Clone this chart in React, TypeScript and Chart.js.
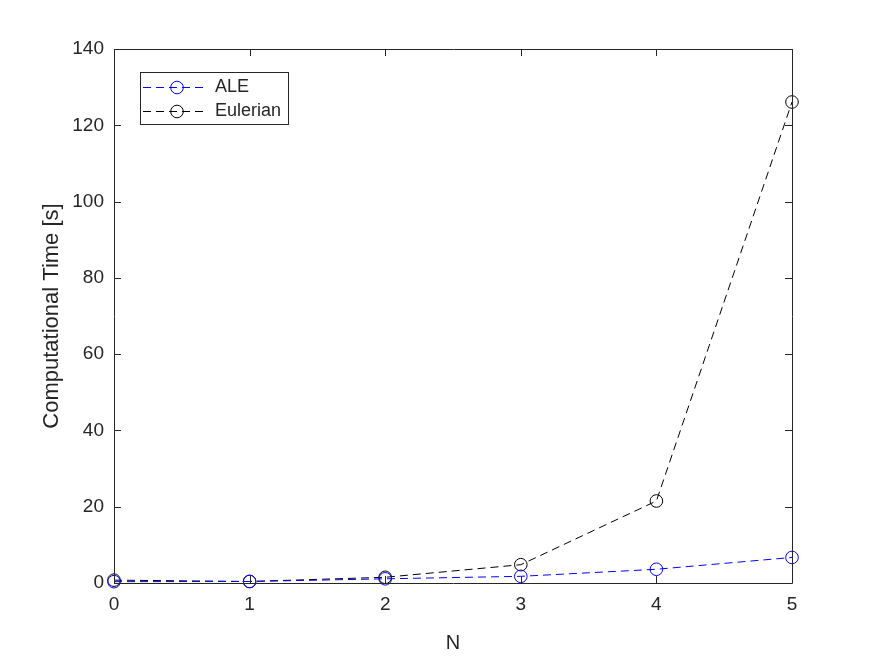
import React, { useEffect, useRef } from "react";
import { Chart, registerables } from "chart.js";

Chart.register(...registerables);

const nValues = [0, 1, 2, 3, 4, 5];
const aleTimes = [0.35, 0.4, 1.1, 1.75, 3.6, 6.7];
const eulerianTimes = [0.75, 0.4, 1.5, 4.8, 21.5, 126.1];
const seriesLabels = ["ALE", "Eulerian"];
const xTitle = "N";
const yTitle = "Computational Time [s]";

const FONT = "'Liberation Sans', Arial, Helvetica, sans-serif";
const AXIS_COLOR = "#262626";
const DASH = [8, 5];

const matlabPlugin = {
  id: "matlabBox",
  afterDraw(chart: any) {
    const { ctx, chartArea } = chart;
    const { left, right, top, bottom } = chartArea;
    const xs = chart.scales.x;
    const ys = chart.scales.y;
    const tl = 7;
    ctx.save();
    ctx.strokeStyle = AXIS_COLOR;
    ctx.lineWidth = 1;
    ctx.setLineDash([]);
    ctx.beginPath();
    ctx.rect(Math.round(left) + 0.5, Math.round(top) + 0.5, Math.round(right - left), Math.round(bottom - top));
    ctx.stroke();
    ctx.beginPath();
    xs.ticks.forEach((t: any) => {
      const x = Math.round(xs.getPixelForValue(t.value)) + 0.5;
      ctx.moveTo(x, bottom);
      ctx.lineTo(x, bottom - tl);
      ctx.moveTo(x, top);
      ctx.lineTo(x, top + tl);
    });
    ys.ticks.forEach((t: any) => {
      const y = Math.round(ys.getPixelForValue(t.value)) + 0.5;
      ctx.moveTo(left, y);
      ctx.lineTo(left + tl, y);
      ctx.moveTo(right, y);
      ctx.lineTo(right - tl, y);
    });
    ctx.stroke();

    // legend
    const bx = 140.5, by = 72.5, bw = 148, bh = 52;
    ctx.fillStyle = "#ffffff";
    ctx.fillRect(bx, by, bw, bh);
    ctx.strokeStyle = AXIS_COLOR;
    ctx.strokeRect(bx, by, bw, bh);
    const rows = [87.5, 111.5];
    chart.data.datasets.forEach((ds: any, i: number) => {
      const y = rows[i];
      ctx.strokeStyle = ds.borderColor;
      ctx.lineWidth = 1;
      ctx.setLineDash(DASH);
      ctx.beginPath();
      ctx.moveTo(143, y);
      ctx.lineTo(206, y);
      ctx.stroke();
      ctx.setLineDash([]);
      ctx.beginPath();
      ctx.arc(177, y, 6.3, 0, Math.PI * 2);
      ctx.stroke();
      ctx.fillStyle = AXIS_COLOR;
      ctx.font = `18px ${FONT}`;
      ctx.textBaseline = "middle";
      ctx.textAlign = "left";
      ctx.fillText(ds.label, 215, y);
    });
    ctx.restore();
  },
};

export default function App() {
  const ref = useRef<HTMLCanvasElement | null>(null);
  useEffect(() => {
    if (!ref.current) return;
    const mk = (label: string, data: number[], color: string) => ({
      label,
      data: nValues.map((n, i) => ({ x: n, y: data[i] })),
      borderColor: color,
      backgroundColor: color,
      borderWidth: 1,
      borderDash: DASH,
      pointRadius: 6.3,
      pointBorderWidth: 1,
      pointBackgroundColor: "rgba(0,0,0,0)",
      pointBorderColor: color,
      tension: 0,
      clip: false as any,
    });
    const chart = new Chart(ref.current, {
      type: "line",
      data: {
        datasets: [
          mk(seriesLabels[0], aleTimes, "#0000ff"),
          mk(seriesLabels[1], eulerianTimes, "#000000"),
        ],
      },
      options: {
        responsive: false,
        animation: false,
        devicePixelRatio: 1,
        layout: { padding: { left: 0, top: 49, right: 83, bottom: 0 } },
        plugins: { legend: { display: false }, tooltip: { enabled: false } },
        scales: {
          x: {
            type: "linear",
            min: 0,
            max: 5,
            ticks: { stepSize: 1, color: AXIS_COLOR, font: { family: FONT, size: 19 }, padding: 10 },
            grid: { display: false, drawTicks: false },
            border: { display: false },
            title: {
              display: true,
              text: xTitle,
              color: AXIS_COLOR,
              font: { family: FONT, size: 20 },
              padding: { top: 0, bottom: 1 },
            },
            afterFit: (s: any) => {
              s.height = 73;
            },
          },
          y: {
            type: "linear",
            min: 0,
            max: 140,
            ticks: { stepSize: 20, color: AXIS_COLOR, font: { family: FONT, size: 19 }, padding: 10 },
            grid: { display: false, drawTicks: false },
            border: { display: false },
            title: {
              display: true,
              text: yTitle,
              color: AXIS_COLOR,
              font: { family: FONT, size: 22 },
              padding: { top: 39, bottom: 0 },
            },
            afterFit: (s: any) => {
              s.width = 114;
            },
          },
        },
      },
      plugins: [matlabPlugin],
    });
    return () => chart.destroy();
  }, []);
  return (
    <div style={{ position: "absolute", left: 0, top: 0, width: 875, height: 656, background: "#fff" }}>
      <canvas ref={ref} width={875} height={656} />
    </div>
  );
}
